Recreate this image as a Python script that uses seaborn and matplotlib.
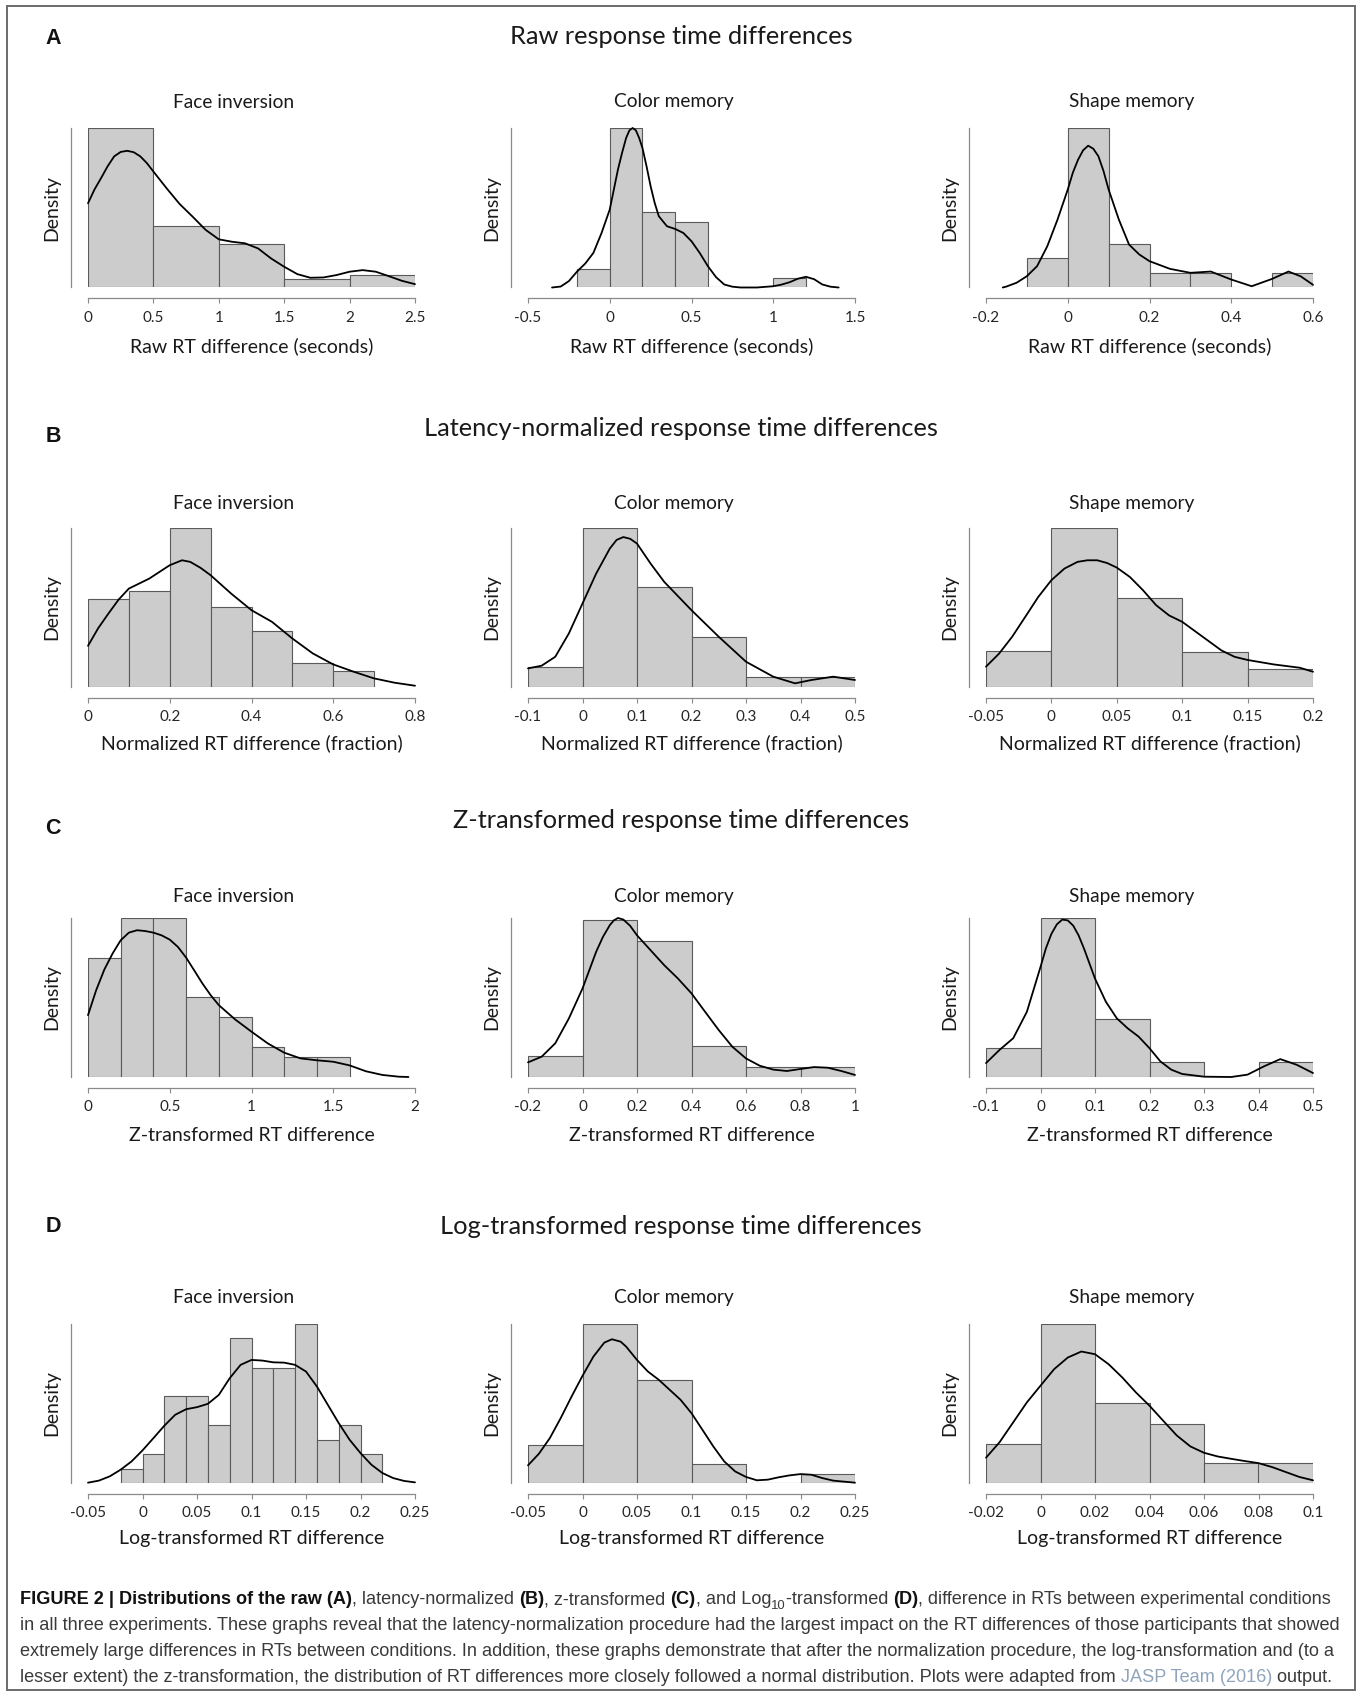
import re
import numpy as np
import pandas as pd
import matplotlib
matplotlib.use("Agg")
import matplotlib.pyplot as plt
from matplotlib.patches import Rectangle
import seaborn as sns

W, H, DPI = 1363, 1694, 100

sns.set_theme(style="white")
plt.rcParams["font.family"] = ["Lato", "DejaVu Sans"]

# ------------------------------------------------------------------ data
row_letters = ["A", "B", "C", "D"]
row_titles = ["Raw response time differences",
              "Latency-normalized response time differences",
              "Z-transformed response time differences",
              "Log-transformed response time differences"]
col_titles = ["Face inversion", "Color memory", "Shape memory"]
row_xlabels = ["Raw RT difference (seconds)",
               "Normalized RT difference (fraction)",
               "Z-transformed RT difference",
               "Log-transformed RT difference"]

# Row A : raw RT differences (bar heights / curve relative to tallest bar)
a_face_edges = [0, 0.5, 1, 1.5, 2, 2.5]
a_face_heights = [1.0, 0.388, 0.275, 0.052, 0.078]
a_face_kde_x = [0, 0.05, 0.1, 0.15, 0.2, 0.25, 0.3, 0.35, 0.4, 0.45, 0.5, 0.6, 0.7, 0.8,
                0.9, 1.0, 1.1, 1.2, 1.3, 1.4, 1.5, 1.6, 1.7, 1.8, 1.9, 2.0, 2.1, 2.2,
                2.3, 2.4, 2.5]
a_face_kde_y = [0.528, 0.615, 0.686, 0.760, 0.822, 0.850, 0.857, 0.848, 0.822, 0.780,
                0.727, 0.623, 0.524, 0.444, 0.361, 0.302, 0.287, 0.277, 0.245, 0.182,
                0.130, 0.084, 0.061, 0.063, 0.078, 0.099, 0.109, 0.099, 0.071, 0.042,
                0.021]
a_face_ticks = [0, 0.5, 1, 1.5, 2, 2.5]

a_color_edges = [-0.2, 0, 0.2, 0.4, 0.6, 0.8, 1.0, 1.2]
a_color_heights = [0.119, 1.0, 0.472, 0.411, 0, 0, 0.061]
a_color_kde_x = [-0.353, -0.3, -0.25, -0.2, -0.15, -0.1, -0.05, 0, 0.025, 0.05, 0.075,
                 0.1, 0.12, 0.14, 0.16, 0.18, 0.2, 0.225, 0.25, 0.275, 0.3, 0.35, 0.4,
                 0.45, 0.5, 0.55, 0.6, 0.65, 0.7, 0.75, 0.8, 0.9, 1.0, 1.05, 1.1,
                 1.15, 1.2, 1.25, 1.3, 1.35, 1.4]
a_color_kde_y = [0, 0.006, 0.04, 0.10, 0.15, 0.217, 0.342, 0.489, 0.614, 0.739, 0.843,
                 0.937, 0.985, 1.0, 0.985, 0.937, 0.875, 0.760, 0.635, 0.530, 0.447,
                 0.384, 0.367, 0.342, 0.290, 0.217, 0.134, 0.065, 0.019, 0.005, 0, 0,
                 0.008, 0.018, 0.033, 0.055, 0.067, 0.052, 0.019, 0.005, 0]
a_color_ticks = [-0.5, 0, 0.5, 1, 1.5]

a_shape_edges = [-0.1, 0, 0.1, 0.2, 0.3, 0.4, 0.5, 0.6]
a_shape_heights = [0.182, 1.0, 0.273, 0.092, 0.092, 0, 0.092]
a_shape_kde_x = [-0.159, -0.15, -0.125, -0.1, -0.075, -0.05, -0.025, 0, 0.0125, 0.025,
                 0.0375, 0.05, 0.0625, 0.075, 0.0875, 0.1, 0.1125, 0.125, 0.15, 0.175,
                 0.2, 0.25, 0.3, 0.35, 0.4, 0.45, 0.5, 0.54, 0.57, 0.6]
a_shape_kde_y = [0, 0.006, 0.03, 0.071, 0.134, 0.259, 0.426, 0.614, 0.72, 0.80, 0.86,
                 0.889, 0.87, 0.823, 0.73, 0.614, 0.52, 0.426, 0.269, 0.207, 0.165,
                 0.117, 0.092, 0.100, 0.050, 0.008, 0.054, 0.100, 0.07, 0.017]
a_shape_ticks = [-0.2, 0, 0.2, 0.4, 0.6]

# Row B : latency-normalized
b_face_edges = [0, 0.1, 0.2, 0.3, 0.4, 0.5, 0.6, 0.7]
b_face_heights = [0.552, 0.603, 1.0, 0.504, 0.354, 0.153, 0.100]
b_face_kde_x = [0, 0.025, 0.05, 0.075, 0.1, 0.15, 0.2, 0.23, 0.25, 0.275, 0.3, 0.35,
                0.4, 0.45, 0.5, 0.55, 0.6, 0.65, 0.7, 0.75, 0.8]
b_face_kde_y = [0.259, 0.37, 0.462, 0.55, 0.619, 0.682, 0.766, 0.797, 0.787, 0.75,
                0.703, 0.588, 0.483, 0.41, 0.305, 0.211, 0.142, 0.096, 0.054, 0.027,
                0.008]
b_face_ticks = [0, 0.2, 0.4, 0.6, 0.8]

b_color_edges = [-0.1, 0, 0.1, 0.2, 0.3, 0.4, 0.5]
b_color_heights = [0.128, 1.0, 0.628, 0.314, 0.063, 0.063]
b_color_kde_x = [-0.1, -0.075, -0.05, -0.025, 0, 0.025, 0.05, 0.0625, 0.075, 0.0875,
                 0.1, 0.125, 0.15, 0.2, 0.25, 0.3, 0.35, 0.39, 0.42, 0.46, 0.5]
b_color_kde_y = [0.117, 0.134, 0.19, 0.337, 0.525, 0.713, 0.870, 0.925, 0.943, 0.932,
                 0.902, 0.776, 0.661, 0.483, 0.316, 0.159, 0.065, 0.023, 0.044, 0.065,
                 0.044]
b_color_ticks = [-0.1, 0, 0.1, 0.2, 0.3, 0.4, 0.5]

b_shape_edges = [-0.05, 0, 0.05, 0.1, 0.15, 0.2]
b_shape_heights = [0.224, 1.0, 0.559, 0.222, 0.111]
b_shape_kde_x = [-0.05, -0.04, -0.03, -0.02, -0.01, 0, 0.01, 0.02, 0.0275, 0.035,
                 0.0425, 0.05, 0.06, 0.07, 0.08, 0.09, 0.1, 0.11, 0.12, 0.13, 0.14,
                 0.15, 0.17, 0.19, 0.2]
b_shape_kde_y = [0.128, 0.21, 0.316, 0.441, 0.567, 0.672, 0.745, 0.787, 0.797, 0.797,
                 0.78, 0.751, 0.692, 0.609, 0.515, 0.45, 0.41, 0.35, 0.29, 0.23, 0.19,
                 0.17, 0.142, 0.121, 0.096]
b_shape_ticks = [-0.05, 0, 0.05, 0.1, 0.15, 0.2]

# Row C : z-transformed
c_face_edges = [0, 0.2, 0.4, 0.6, 0.8, 1.0, 1.2, 1.4, 1.6]
c_face_heights = [0.751, 1.0, 1.0, 0.502, 0.377, 0.188, 0.123, 0.123]
c_face_kde_x = [0, 0.05, 0.1, 0.15, 0.2, 0.25, 0.3, 0.35, 0.4, 0.45, 0.5, 0.55, 0.6,
                0.65, 0.7, 0.75, 0.8, 0.9, 1.0, 1.1, 1.2, 1.3, 1.4, 1.5, 1.6, 1.7, 1.8,
                1.9, 1.96]
c_face_kde_y = [0.389, 0.546, 0.676, 0.776, 0.860, 0.908, 0.923, 0.918, 0.908, 0.891,
                0.864, 0.818, 0.751, 0.67, 0.588, 0.515, 0.452, 0.362, 0.285, 0.211,
                0.153, 0.117, 0.105, 0.096, 0.073, 0.036, 0.013, 0.002, 0]
c_face_ticks = [0, 0.5, 1, 1.5, 2]

c_color_edges = [-0.2, 0, 0.2, 0.4, 0.6, 0.8, 1.0]
c_color_heights = [0.133, 1.0, 0.865, 0.199, 0.063, 0.063]
c_color_kde_x = [-0.2, -0.15, -0.1, -0.05, 0, 0.05, 0.075, 0.1, 0.115, 0.13, 0.15,
                 0.175, 0.2, 0.25, 0.3, 0.35, 0.4, 0.45, 0.5, 0.55, 0.6, 0.65, 0.7,
                 0.75, 0.8, 0.85, 0.9, 0.95, 1.0]
c_color_kde_y = [0.093, 0.129, 0.214, 0.372, 0.562, 0.795, 0.89, 0.964, 0.995, 1.01,
                 1.0, 0.96, 0.90, 0.805, 0.710, 0.626, 0.531, 0.414, 0.298, 0.192,
                 0.118, 0.072, 0.047, 0.038, 0.051, 0.063, 0.059, 0.038, 0.013]
c_color_ticks = [-0.2, 0, 0.2, 0.4, 0.6, 0.8, 1]

c_shape_edges = [-0.1, 0, 0.1, 0.2, 0.3, 0.4, 0.5]
c_shape_heights = [0.181, 1.0, 0.3625, 0.092, 0, 0.092]
c_shape_kde_x = [-0.1, -0.075, -0.05, -0.025, 0, 0.01, 0.02, 0.03, 0.04, 0.05, 0.06,
                 0.07, 0.08, 0.1, 0.12, 0.14, 0.16, 0.18, 0.2, 0.22, 0.24, 0.26, 0.3,
                 0.35, 0.38, 0.41, 0.44, 0.47, 0.5]
c_shape_kde_y = [0.0875, 0.171, 0.244, 0.41, 0.692, 0.81, 0.9, 0.96, 0.99, 0.985,
                 0.952, 0.89, 0.806, 0.619, 0.473, 0.369, 0.306, 0.254, 0.181, 0.098,
                 0.046, 0.019, 0.002, 0, 0.015, 0.067, 0.1125, 0.077, 0.025]
c_shape_ticks = [-0.1, 0, 0.1, 0.2, 0.3, 0.4, 0.5]

# Row D : log-transformed
d_face_edges = [-0.02, 0, 0.02, 0.04, 0.06, 0.08, 0.1, 0.12, 0.14, 0.16, 0.18, 0.2, 0.22]
d_face_heights = [0.090, 0.182, 0.546, 0.546, 0.362, 0.910, 0.726, 0.726, 1.0, 0.272,
                  0.362, 0.182]
d_face_kde_x = [-0.05, -0.04, -0.03, -0.02, -0.01, 0, 0.01, 0.02, 0.03, 0.04, 0.05,
                0.06, 0.07, 0.08, 0.09, 0.1, 0.11, 0.12, 0.13, 0.14, 0.15, 0.16, 0.17,
                0.18, 0.19, 0.2, 0.21, 0.22, 0.23, 0.24, 0.25]
d_face_kde_y = [0.002, 0.015, 0.042, 0.084, 0.136, 0.205, 0.282, 0.360, 0.429, 0.464,
                0.477, 0.498, 0.554, 0.659, 0.743, 0.774, 0.770, 0.759, 0.757, 0.743,
                0.701, 0.607, 0.492, 0.377, 0.272, 0.188, 0.115, 0.063, 0.031, 0.013,
                0.004]
d_face_ticks = [-0.05, 0, 0.05, 0.1, 0.15, 0.2, 0.25]

d_color_edges = [-0.05, 0, 0.05, 0.1, 0.15, 0.2, 0.25]
d_color_heights = [0.236, 1.0, 0.646, 0.117, 0, 0.059]
d_color_kde_x = [-0.05, -0.04, -0.03, -0.02, -0.01, 0, 0.01, 0.02, 0.027, 0.035, 0.04,
                 0.05, 0.06, 0.07, 0.08, 0.09, 0.1, 0.11, 0.12, 0.13, 0.14, 0.15, 0.16,
                 0.17, 0.18, 0.19, 0.2, 0.21, 0.22, 0.23, 0.25]
d_color_kde_y = [0.111, 0.184, 0.282, 0.408, 0.544, 0.674, 0.795, 0.883, 0.904, 0.889,
                 0.858, 0.774, 0.701, 0.649, 0.586, 0.523, 0.439, 0.335, 0.230, 0.136,
                 0.073, 0.038, 0.017, 0.021, 0.036, 0.048, 0.056, 0.052, 0.031, 0.015,
                 0.002]
d_color_ticks = [-0.05, 0, 0.05, 0.1, 0.15, 0.2, 0.25]

d_shape_edges = [-0.02, 0, 0.02, 0.04, 0.06, 0.08, 0.1]
d_shape_heights = [0.248, 1.0, 0.501, 0.374, 0.125, 0.125]
d_shape_kde_x = [-0.02, -0.015, -0.01, -0.005, 0, 0.005, 0.01, 0.015, 0.02, 0.025, 0.03,
                 0.035, 0.04, 0.045, 0.05, 0.055, 0.06, 0.065, 0.07, 0.075, 0.08, 0.085,
                 0.09, 0.095, 0.1]
d_shape_kde_y = [0.159, 0.257, 0.382, 0.507, 0.612, 0.716, 0.789, 0.827, 0.810, 0.747,
                 0.664, 0.570, 0.486, 0.392, 0.299, 0.230, 0.190, 0.167, 0.152, 0.138,
                 0.125, 0.100, 0.069, 0.038, 0.017]
d_shape_ticks = [-0.02, 0, 0.02, 0.04, 0.06, 0.08, 0.1]

caption_lines = [
    "<b>FIGURE 2 | Distributions of the raw (A)</b>, latency-normalized <b>(B)</b>, "
    "z-transformed <b>(C)</b>, and Log<s>10</s>-transformed <b>(D)</b>, difference in RTs "
    "between experimental conditions",
    "in all three experiments. These graphs reveal that the latency-normalization procedure "
    "had the largest impact on the RT differences of those participants that showed",
    "extremely large differences in RTs between conditions. In addition, these graphs "
    "demonstrate that after the normalization procedure, the log-transformation and (to a",
    "lesser extent) the z-transformation, the distribution of RT differences more closely "
    "followed a normal distribution. Plots were adapted from <l>JASP Team (2016)</l> output.",
]

panels = [
    [(a_face_edges, a_face_heights, a_face_kde_x, a_face_kde_y, a_face_ticks),
     (a_color_edges, a_color_heights, a_color_kde_x, a_color_kde_y, a_color_ticks),
     (a_shape_edges, a_shape_heights, a_shape_kde_x, a_shape_kde_y, a_shape_ticks)],
    [(b_face_edges, b_face_heights, b_face_kde_x, b_face_kde_y, b_face_ticks),
     (b_color_edges, b_color_heights, b_color_kde_x, b_color_kde_y, b_color_ticks),
     (b_shape_edges, b_shape_heights, b_shape_kde_x, b_shape_kde_y, b_shape_ticks)],
    [(c_face_edges, c_face_heights, c_face_kde_x, c_face_kde_y, c_face_ticks),
     (c_color_edges, c_color_heights, c_color_kde_x, c_color_kde_y, c_color_ticks),
     (c_shape_edges, c_shape_heights, c_shape_kde_x, c_shape_kde_y, c_shape_ticks)],
    [(d_face_edges, d_face_heights, d_face_kde_x, d_face_kde_y, d_face_ticks),
     (d_color_edges, d_color_heights, d_color_kde_x, d_color_kde_y, d_color_ticks),
     (d_shape_edges, d_shape_heights, d_shape_kde_x, d_shape_kde_y, d_shape_ticks)],
]

# ------------------------------------------------------------------ layout (pixels)
col_x0 = [88, 528, 986]
AXW = 327
row_top = [128, 528, 918, 1324]
row_base = [287.5, 687, 1077, 1483]
AXIS_OFF = 11
YAXIS_OFF = 17
row_title_y = [36, 428, 820, 1226]
row_letter_y = [38, 436, 828, 1226]
row_sub_y = [102, 503, 896, 1297]
row_xlab_y = [346, 743, 1135, 1538]
caption_base = [1604, 1630, 1656, 1682]

HUM = ["Lato", "DejaVu Sans"]
ARI = ["Liberation Sans", "DejaVu Sans"]
CAPF = "Liberation Sans"
PT = 72.0 / DPI

fig = plt.figure(figsize=(W / DPI, H / DPI), dpi=DPI)
fig.patch.set_facecolor("white")
renderer = fig.canvas.get_renderer()


def fx(x):
    return x / W


def fy(y):
    return 1 - y / H


def measure(s, **kw):
    t = fig.text(0, 0, s, **kw)
    w = t.get_window_extent(renderer).width
    t.remove()
    return w


def fit(s, target, **kw):
    return 10.0 * target / measure(s, fontsize=10, **kw)


sz_title = fit(row_titles[0], 344, family=HUM)
sz_sub = fit("Face inversion", 121, family=HUM)
sz_xlab = fit("Z-transformed RT difference", 246, family=HUM)
sz_tick = fit("2.5", 18, family=ARI)

# frame
fig.patches.append(Rectangle((fx(7), fy(1690)), (1355 - 7) / W, (1690 - 6) / H,
                             transform=fig.transFigure, fill=False,
                             edgecolor="#6b6b6b", linewidth=1.4))

for r in range(4):
    fig.text(fx(681), fy(row_title_y[r]), row_titles[r], family=HUM, fontsize=sz_title,
             ha="center", va="center", color="#1a1a1a")
    fig.text(fx(53), fy(row_letter_y[r]), row_letters[r], family=ARI, weight="bold",
             fontsize=15.5, ha="center", va="center", color="#111111")
    for c in range(3):
        edges, heights, kx, ky, ticks = panels[r][c]
        edges = [float(e) for e in edges]
        centers = [(edges[i] + edges[i + 1]) / 2 for i in range(len(edges) - 1)]
        df = pd.DataFrame({"x": centers, "w": heights})
        x0 = col_x0[c]
        top, base = row_top[r], row_base[r]
        ax = fig.add_axes([fx(x0), fy(base), AXW / W, (base - top) / H])
        ax.set_facecolor("none")
        sns.histplot(data=df, x="x", weights="w", bins=edges, stat="count",
                     color="#cccccc", edgecolor="#5a5a5a", linewidth=0.8, alpha=1,
                     ax=ax)
        sns.lineplot(x=kx, y=ky, color="black", linewidth=1.3, sort=False,
                     estimator=None, ax=ax)
        for ln in ax.lines:
            ln.set_clip_on(False)
            ln.set_solid_joinstyle("round")
        ax.set_xlim(ticks[0], ticks[-1])
        ax.set_ylim(0, max(max(heights), max(ky)))
        ax.set_xlabel("")
        ax.set_ylabel("")
        ax.set_yticks([])
        ax.set_xticks(ticks)
        ax.set_xticklabels(["%g" % t for t in ticks], family=ARI, fontsize=sz_tick,
                           color="#555555")
        ax.tick_params(axis="x", direction="out", length=5 * PT, width=0.8,
                       color="#8a8a8a", pad=7 * PT, bottom=True)
        ax.spines["top"].set_visible(False)
        ax.spines["right"].set_visible(False)
        ax.spines["left"].set_position(("outward", YAXIS_OFF * PT))
        ax.spines["bottom"].set_position(("outward", AXIS_OFF * PT))
        for sp in ("left", "bottom"):
            ax.spines[sp].set_color("#8a8a8a")
            ax.spines[sp].set_linewidth(0.9)
        ax.grid(False)

        fig.text(fx(x0 + AXW / 2 - 18), fy(row_sub_y[r]), col_titles[c], family=HUM,
                 fontsize=sz_sub, ha="center", va="center", color="#1a1a1a")
        fig.text(fx(x0 - 36), fy((top + base) / 2), "Density", family=HUM,
                 fontsize=sz_xlab, rotation=90, ha="center", va="center",
                 color="#1a1a1a")
        fig.text(fx(x0 + AXW / 2), fy(row_xlab_y[r]), row_xlabels[r], family=HUM,
                 fontsize=sz_xlab, ha="center", va="center", color="#1a1a1a")


# ------------------------------------------------------------------ caption
def parse_runs(line):
    runs = []
    for m in re.finditer(r"<(b|s|l)>(.*?)</\1>|([^<]+)", line):
        if m.group(1):
            runs.append((m.group(2), m.group(1)))
        else:
            runs.append((m.group(3), "r"))
    return runs


def cap_props(st, size):
    d = dict(family=CAPF, fontsize=size, color="#3a3a3a", va="baseline", ha="left")
    if st == "b":
        d.update(weight="bold", color="#111111")
    elif st == "s":
        d.update(fontsize=size * 0.72)
    elif st == "l":
        d.update(color="#90a4bc")
    return d


def runs_width(runs, size):
    return sum(measure(t, **cap_props(st, size)) for t, st in runs)


CAP_L, CAP_R = 20, 1341
# font size chosen so that the longest caption line fills the text width
nat = [runs_width(parse_runs(l), 10) for l in caption_lines]
cap_size = round(10 * (CAP_R - CAP_L) / max(nat) * 1.007, 2)

for i, line in enumerate(caption_lines):
    runs = parse_runs(line)
    x = CAP_L
    for t, st in runs:
        dy = 5 if st == "s" else 0
        txt = fig.text(fx(x), fy(caption_base[i] + dy), t, **cap_props(st, cap_size))
        x += txt.get_window_extent(renderer).width

fig.savefig("out.png", dpi=DPI, facecolor="white")
